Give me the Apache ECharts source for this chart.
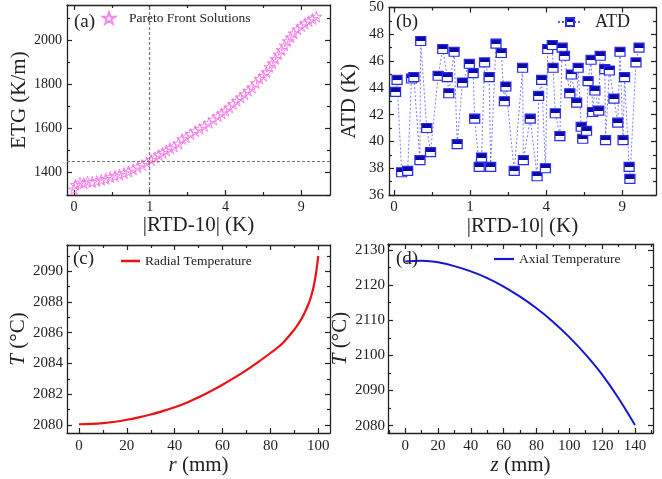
<!DOCTYPE html>
<html>
<head>
<meta charset="utf-8">
<script src="https://cdn.jsdelivr.net/npm/echarts@6.0.0/dist/echarts.min.js"></script>
<style>
  html, body { margin: 0; padding: 0; background: #fff; }
  #chart { width: 662px; height: 479px; }
</style>
</head>
<body>
<div id="chart"></div>
<script>
// (a) Pareto front solutions: |RTD-10| (K) vs ETG (K/m)
const paretoRtd = [0, 0.0004, 0.006, 0.017, 0.032, 0.058, 0.090, 0.130, 0.176, 0.230,
  0.292, 0.360, 0.436, 0.518, 0.608, 0.706, 0.810, 0.922, 1.040, 1.145,
  1.254, 1.369, 1.488, 1.613, 1.742, 1.904, 2.045, 2.190, 2.372, 2.560,
  2.756, 2.958, 3.168, 3.386, 3.610, 3.803, 4.000, 4.203, 4.410, 4.623,
  4.840, 5.063, 5.290, 5.523, 5.760, 6.003, 6.250, 6.452, 6.656, 6.864,
  7.076, 7.290, 7.508, 7.728, 7.952, 8.180, 8.410, 8.703, 9.000, 9.303,
  9.610, 9.923, 10.240];
const paretoEtg = [1325, 1345, 1355, 1352, 1360, 1358, 1362, 1368, 1372, 1380,
  1385, 1392, 1398, 1405, 1415, 1425, 1435, 1447, 1458, 1468,
  1480, 1490, 1500, 1510, 1518, 1532, 1552, 1560, 1575, 1588,
  1598, 1610, 1625, 1640, 1655, 1668, 1680, 1695, 1710, 1725,
  1740, 1755, 1770, 1785, 1805, 1825, 1838, 1855, 1878, 1895,
  1915, 1935, 1955, 1975, 1995, 2012, 2030, 2048, 2062, 2075,
  2085, 2095, 2105];
const refRtd = 1;
const refEtg = 1450;

// (b) ATD of the same solutions
const atdRtd = [0.0004, 0.0016, 0.010, 0.032, 0.053, 0.068, 0.116, 0.123, 0.185, 0.230,
  0.336, 0.410, 0.490, 0.518, 0.624, 0.689, 0.810, 0.980, 1.082, 1.124,
  1.254, 1.323, 1.416, 1.563, 1.613, 1.796, 1.988, 2.103, 2.161, 2.496,
  2.856, 2.890, 3.204, 3.534, 3.610, 3.764, 3.960, 4.080, 4.326, 4.368,
  4.494, 4.752, 4.884, 5.018, 5.336, 5.429, 5.760, 5.856, 6.052, 6.150,
  6.401, 6.503, 6.708, 6.812, 6.970, 7.236, 7.344, 7.673, 7.728, 8.009,
  8.352, 8.644, 8.821, 9.060, 9.181, 9.548, 9.610, 10.112, 10.368];
const atdVal = [43.7, 44.6, 37.7, 37.8, 44.7, 44.8, 38.6, 47.5, 41.0, 39.2,
  44.9, 46.9, 44.8, 43.6, 46.7, 39.8, 44.4, 45.8, 45.1, 41.7,
  38.1, 38.8, 45.9, 44.8, 38.1, 47.3, 46.6, 43.0, 44.1, 37.8,
  45.5, 38.6, 41.7, 37.4, 43.4, 44.6, 38.0, 46.9, 47.2, 45.5,
  42.1, 40.4, 47.0, 46.4, 43.6, 45.0, 42.9, 45.5, 41.1, 40.2,
  40.8, 44.5, 46.1, 42.2, 43.8, 42.3, 46.4, 45.4, 40.1, 45.3,
  43.2, 41.4, 46.7, 40.1, 44.8, 38.1, 37.2, 45.9, 47.0];

// (c) radial temperature
const radialR = [0, 5, 10, 15, 20, 25, 30, 35, 40, 45, 50, 55, 60, 65, 70, 75, 80, 85, 90, 92, 94, 96, 97, 98, 99, 100];
const radialT = [2080.05, 2080.07, 2080.12, 2080.21, 2080.34, 2080.5, 2080.68, 2080.9, 2081.15, 2081.45,
  2081.8, 2082.2, 2082.62, 2083.08, 2083.57, 2084.1, 2084.68, 2085.3, 2086.2, 2086.65,
  2087.2, 2087.9, 2088.35, 2088.95, 2089.8, 2091.0];

// (d) axial temperature
const axialZ = [0, 5, 10, 15, 20, 30, 40, 50, 60, 70, 80, 90, 100, 110, 120, 130, 140];
const axialT = [2126.7, 2126.85, 2126.9, 2126.8, 2126.5, 2125.4, 2123.9, 2122.0, 2119.6, 2116.7,
  2113.4, 2109.6, 2105.2, 2100.2, 2094.5, 2087.8, 2080.2];

// tick labels
const rtdTicks = [0, 1, 4, 9];
const rtdMinor = [0.25, 2.25, 6.25];
const etgTicks = [1400, 1600, 1800, 2000];
const etgMinor = [1300, 1500, 1700, 1900, 2100];
const atdTicks = [36, 38, 40, 42, 44, 46, 48, 50];
const atdMinor = [37, 39, 41, 43, 45, 47, 49];
const rTicks = [0, 20, 40, 60, 80, 100];
const rMinor = [10, 30, 50, 70, 90];
const radTTicks = [2080, 2082, 2084, 2086, 2088, 2090];
const radTMinor = [2081, 2083, 2085, 2087, 2089, 2091];
const zTicks = [0, 20, 40, 60, 80, 100, 120, 140];
const zMinor = [-10, 10, 30, 50, 70, 90, 110, 130, 150];
const axTTicks = [2080, 2090, 2100, 2110, 2120, 2130];
const axTMinor = [2085, 2095, 2105, 2115, 2125];

const FONT = 'Liberation Serif';
const INK = '#222';
const sq = Math.sqrt;

const frameLine = { show: true, onZero: false, lineStyle: { color: INK, width: 1.3 } };
const noLine = { show: false, onZero: false };
function tick(vals, len) {
  return { show: true, inside: true, length: len, customValues: vals, lineStyle: { color: INK, width: 1.2 } };
}
function nameStyle() {
  return {
    fontFamily: FONT, fontSize: 21, color: INK,
    rich: { i: { fontFamily: FONT, fontSize: 21, fontStyle: 'italic', color: INK } }
  };
}

// four axes per direction: main (labels), minor, mirrored main, mirrored minor
function axesFor(dir, grid, min, max, major, minor, o) {
  const base = { gridIndex: grid, type: 'value', min: min, max: max, splitLine: { show: false } };
  const p1 = dir === 'x' ? 'bottom' : 'left';
  const p2 = dir === 'x' ? 'top' : 'right';
  return [
    Object.assign({}, base, {
      position: p1, axisLine: frameLine, axisTick: tick(major, 5),
      axisLabel: { customValues: major, formatter: o.fmt || (v => String(v)), fontFamily: FONT, fontSize: o.fs, color: INK, margin: o.margin },
      name: o.name, nameLocation: 'middle', nameGap: o.gap, nameTextStyle: nameStyle()
    }),
    Object.assign({}, base, { position: p1, axisLine: noLine, axisTick: tick(minor, 3), axisLabel: { show: false } }),
    Object.assign({}, base, { position: p2, axisLine: frameLine, axisTick: tick(major, 5), axisLabel: { show: false } }),
    Object.assign({}, base, { position: p2, axisLine: noLine, axisTick: tick(minor, 3), axisLabel: { show: false } })
  ];
}

const rtdFmt = v => String(Math.round(v * v));
const xAxis = [].concat(
  axesFor('x', 0, -0.092, 3.38, rtdTicks.map(sq), rtdMinor.map(sq), { fmt: rtdFmt, fs: 14, margin: 5, name: '|RTD-10| (K)', gap: 16 }),
  axesFor('x', 1, -0.066, 3.443, rtdTicks.map(sq), rtdMinor.map(sq), { fmt: rtdFmt, fs: 15, margin: 5, name: '|RTD-10| (K)', gap: 16 }),
  axesFor('x', 2, -5, 104.9, rTicks, rMinor, { fs: 15, margin: 6, name: '{i|r} (mm)', gap: 18 }),
  axesFor('x', 3, -10.5, 151, zTicks, zMinor, { fs: 15, margin: 6, name: '{i|z} (mm)', gap: 18 })
);
const yAxis = [].concat(
  axesFor('y', 0, 1299, 2158, etgTicks, etgMinor, { fs: 14, margin: 5, name: 'ETG (K/m)', gap: 25 }),
  axesFor('y', 1, 36, 50, atdTicks, atdMinor, { fs: 15, margin: 5, name: 'ATD (K)', gap: 29 }),
  axesFor('y', 2, 2079.48, 2091.7, radTTicks, radTMinor, { fs: 15, margin: 4, name: '{i|T} (°C)', gap: 26 }),
  axesFor('y', 3, 2077.9, 2131.7, axTTicks, axTMinor, { fs: 15, margin: 3, name: '{i|T} (°C)', gap: 26 })
);

const starPath = 'path://M50,0L61.2,34.5L97.6,34.5L68.2,55.9L79.4,90.5L50,69.1L20.6,90.5L31.8,55.9L2.4,34.5L38.8,34.5Z';
const halfFill = {
  type: 'linear', x: 0, y: 0, x2: 0, y2: 1,
  colorStops: [
    { offset: 0, color: '#0a0aa6' }, { offset: 0.5, color: '#0a0aa6' },
    { offset: 0.5, color: '#ffffff' }, { offset: 1, color: '#ffffff' }
  ]
};

const titleStyle = { fontFamily: FONT, fontSize: 19, fontWeight: 'normal', color: INK };
const legendText = fs => ({ fontFamily: FONT, fontSize: fs, color: INK });

const option = {
  animation: false,
  backgroundColor: '#fff',
  title: [
    { text: '(a)', left: 74, top: 13, padding: 0, textStyle: titleStyle },
    { text: '(b)', left: 396, top: 13, padding: 0, textStyle: titleStyle },
    { text: '(c)', left: 73, top: 250, padding: 0, textStyle: titleStyle },
    { text: '(d)', left: 396, top: 250, padding: 0, textStyle: titleStyle }
  ],
  legend: [
    { data: ['Pareto Front Solutions'], left: 102, top: 11, padding: 0, itemWidth: 12, itemHeight: 12,
      textStyle: Object.assign(legendText(13.5), { padding: [0, 0, 0, 9] }) },
    { data: ['ATD'], left: 557, top: 13, padding: 0, itemWidth: 24, itemHeight: 10,
      textStyle: Object.assign(legendText(18), { padding: [0, 0, 0, 8] }) },
    { data: [{ name: 'Radial Temperature', icon: 'rect' }], left: 121, top: 254, padding: 0, itemWidth: 19, itemHeight: 2.5,
      textStyle: legendText(13.5) },
    { data: [{ name: 'Axial Temperature', icon: 'rect' }], left: 494, top: 252, padding: 0, itemWidth: 20, itemHeight: 2.2,
      textStyle: legendText(13.5) }
  ],
  grid: [
    { left: 67, top: 5, width: 263, height: 190 },
    { left: 389, top: 7, width: 267, height: 188 },
    { left: 67, top: 245, width: 263, height: 188 },
    { left: 388, top: 244, width: 265, height: 189 }
  ],
  xAxis: xAxis,
  yAxis: yAxis,
  series: [
    {
      name: 'Pareto Front Solutions', type: 'scatter', xAxisIndex: 0, yAxisIndex: 0,
      symbol: starPath, symbolSize: 11,
      itemStyle: { color: 'rgba(255,255,255,0)', borderColor: '#f56ae6', borderWidth: 1 },
      data: paretoRtd.map((v, i) => [sq(v), paretoEtg[i]]),
      markLine: {
        silent: true, symbol: 'none', label: { show: false },
        lineStyle: { color: '#777', type: [3, 2], width: 1.2 },
        data: [{ xAxis: sq(refRtd) }, { yAxis: refEtg }]
      }
    },
    {
      name: 'ATD', type: 'line', xAxisIndex: 4, yAxisIndex: 4,
      symbol: 'rect', symbolSize: [10, 9],
      itemStyle: { color: halfFill, borderColor: '#2b2bf0', borderWidth: 1.2 },
      lineStyle: { color: '#5a5af5', width: 0.8, type: [2, 2] },
      data: atdRtd.map((v, i) => [sq(v), atdVal[i]])
    },
    {
      name: 'Radial Temperature', type: 'line', xAxisIndex: 8, yAxisIndex: 8,
      symbol: 'none', smooth: 0.3,
      lineStyle: { color: '#ee1111', width: 2.2 },
      itemStyle: { color: '#ee1111' },
      data: radialR.map((v, i) => [v, radialT[i]])
    },
    {
      name: 'Axial Temperature', type: 'line', xAxisIndex: 12, yAxisIndex: 12,
      symbol: 'none', smooth: 0.3,
      lineStyle: { color: '#1515d8', width: 2 },
      itemStyle: { color: '#1515d8' },
      data: axialZ.map((v, i) => [v, axialT[i]])
    }
  ]
};

const chart = echarts.init(document.getElementById('chart'));
chart.setOption(option);
</script>
</body>
</html>
